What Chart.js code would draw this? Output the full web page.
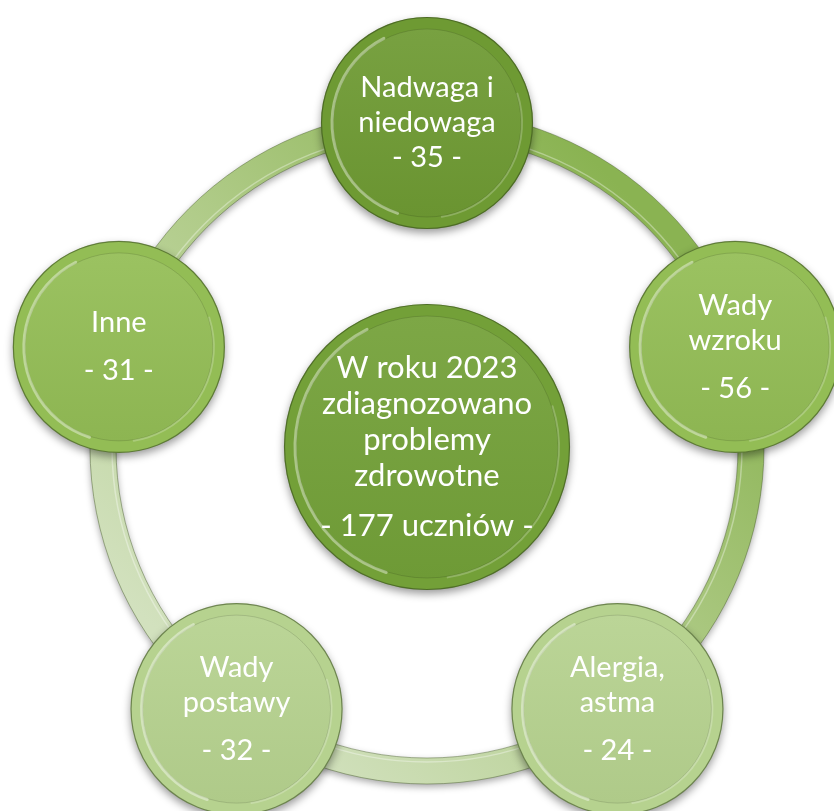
<!DOCTYPE html>
<html>
<head>
<meta charset="utf-8">
<script src="https://cdn.jsdelivr.net/npm/chart.js@4.4.1/dist/chart.umd.min.js"></script>
<style>
  html, body { margin: 0; padding: 0; background: #fff; }
  canvas { display: block; }
</style>
</head>
<body>
<canvas id="chart" width="834" height="811"></canvas>
<script>
// 데이터 (가운데 원 + 바깥 원 5개, 시계방향으로 위에서부터)
const centerLines = ['W roku 2023', 'zdiagnozowano', 'problemy', 'zdrowotne'];
const centerValue = '177 uczniów';
const categories = [['Nadwaga i', 'niedowaga'], ['Wady', 'wzroku'], ['Alergia,', 'astma'], ['Wady', 'postawy'], ['Inne']];
const counts = [35, 56, 24, 32, 31];

// 스타일
const nodeColors = ['#6e9a33', '#93bd55', '#b6d28f', '#b6d28f', '#93bd55'];
const centerColor = '#73a038';
const RING_R = 324;   // 링 반지름 (축 단위 = px)
const NODE_R = 106;
const CENTER_R = 143;

// 바깥 원 위치는 링 위에 72도 간격
const nodePoints = counts.map((v, i) => {
  const a = (90 - i * 72) * Math.PI / 180;
  return { x: RING_R * Math.cos(a), y: RING_R * Math.sin(a), r: NODE_R };
});

const shade = (hex, f) => {
  const n = parseInt(hex.slice(1), 16);
  const ch = [n >> 16, (n >> 8) & 255, n & 255].map(c =>
    Math.round(f >= 0 ? c + (255 - c) * f : c * (1 + f)));
  return `rgb(${ch[0]},${ch[1]},${ch[2]})`;
};

// 링 그리기
const ringPlugin = {
  id: 'ring',
  beforeDatasetsDraw(chart) {
    const { ctx, scales: { x, y } } = chart;
    const cx = x.getPixelForValue(0), cy = y.getPixelForValue(0);
    const r = Math.abs(x.getPixelForValue(RING_R) - cx);
    ctx.save();
    const g = ctx.createLinearGradient(cx + r * 0.7, cy - r * 0.7, cx - r * 0.7, cy + r * 0.7);
    g.addColorStop(0, '#8ab352');
    g.addColorStop(0.5, '#b1cc8a');
    g.addColorStop(1, '#d2e1be');
    ctx.shadowColor = 'rgba(0,0,0,0.35)';
    ctx.shadowBlur = 7;
    ctx.shadowOffsetY = 3;
    ctx.beginPath();
    ctx.arc(cx, cy, r, 0, Math.PI * 2);
    ctx.lineWidth = 26;
    ctx.strokeStyle = g;
    ctx.stroke();
    ctx.shadowColor = 'transparent';
    ctx.lineWidth = 1;
    ctx.strokeStyle = 'rgba(70,95,40,0.45)';
    [r + 13, r - 13].forEach(rr => { ctx.beginPath(); ctx.arc(cx, cy, rr, 0, Math.PI * 2); ctx.stroke(); });
    ctx.strokeStyle = 'rgba(255,255,255,0.35)';
    ctx.lineWidth = 1.5;
    ctx.beginPath(); ctx.arc(cx, cy, r - 9, 0, Math.PI * 2); ctx.stroke();
    ctx.restore();
  }
};

// 원 그림자
const shadowPlugin = {
  id: 'nodeShadow',
  beforeDatasetDraw(chart) {
    const ctx = chart.ctx;
    ctx.save();
    ctx.shadowColor = 'rgba(0,0,0,0.4)';
    ctx.shadowBlur = 9;
    ctx.shadowOffsetY = 4;
  },
  afterDatasetDraw(chart) {
    chart.ctx.restore();
  }
};

// 베벨 효과 + 텍스트
const bevelPlugin = {
  id: 'bevel',
  afterDatasetsDraw(chart) {
    const ctx = chart.ctx;
    chart.data.datasets.forEach((ds, di) => {
      const meta = chart.getDatasetMeta(di);
      meta.data.forEach((el, i) => {
        const { x, y } = el;
        const r = el.options.radius;
        const base = Array.isArray(ds.backgroundColor) ? ds.backgroundColor[i] : ds.backgroundColor;
        const ir = r - 12;
        ctx.save();
        // 안쪽 원
        const g = ctx.createLinearGradient(x, y - ir, x, y + ir);
        g.addColorStop(0, shade(base, 0.07));
        g.addColorStop(1, shade(base, -0.04));
        ctx.beginPath(); ctx.arc(x, y, ir, 0, Math.PI * 2);
        ctx.fillStyle = g; ctx.fill();
        ctx.lineWidth = 1; ctx.strokeStyle = 'rgba(0,0,0,0.12)'; ctx.stroke();
        // 왼쪽 하이라이트
        ctx.lineCap = 'round';
        ctx.lineWidth = 3;
        ctx.strokeStyle = 'rgba(255,255,255,0.4)';
        ctx.beginPath(); ctx.arc(x, y, ir + 1, Math.PI * 0.6, Math.PI * 1.35); ctx.stroke();
        ctx.lineWidth = 2;
        ctx.strokeStyle = 'rgba(255,255,255,0.22)';
        ctx.beginPath(); ctx.arc(x, y, ir + 1, Math.PI * -0.1, Math.PI * 0.45); ctx.stroke();
        // 바깥 테두리
        ctx.lineWidth = 1.2;
        ctx.strokeStyle = 'rgba(50,70,25,0.55)';
        ctx.beginPath(); ctx.arc(x, y, r - 0.5, 0, Math.PI * 2); ctx.stroke();

        // 텍스트
        const isCenter = ds.label === 'center';
        const lines = isCenter ? centerLines : categories[i];
        const value = isCenter ? centerValue : counts[i];
        const lh = isCenter ? 36 : 35;
        const gap = isCenter ? 14 : (i === 0 ? 0 : 13);
        const block = lines.length * lh + gap + lh;
        let ty = y - block / 2 + lh / 2;
        ctx.fillStyle = '#ffffff';
        ctx.font = (isCenter ? '31px' : '29px') + ' Lato, "Open Sans", sans-serif';
        ctx.textAlign = 'center';
        ctx.textBaseline = 'middle';
        lines.forEach(t => { ctx.fillText(t, x, ty); ty += lh; });
        ty += gap;
        ctx.fillText('- ' + value + ' -', x, ty);
        ctx.restore();
      });
    });
  }
};

new Chart(document.getElementById('chart'), {
  type: 'bubble',
  data: {
    datasets: [
      { label: 'center', data: [{ x: 0, y: 0, r: CENTER_R }], backgroundColor: centerColor, borderWidth: 0, clip: false },
      { label: 'nodes', data: nodePoints, backgroundColor: nodeColors, borderWidth: 0, clip: false }
    ]
  },
  options: {
    responsive: false,
    animation: false,
    layout: { padding: 0, autoPadding: false },
    scales: {
      x: { type: 'linear', min: -427, max: 407, display: false },
      y: { type: 'linear', min: -364, max: 447, display: false }
    },
    plugins: { legend: { display: false }, tooltip: { enabled: false } },
    elements: { point: { hoverRadius: 0 } }
  },
  plugins: [ringPlugin, shadowPlugin, bevelPlugin]
});
</script>
</body>
</html>
